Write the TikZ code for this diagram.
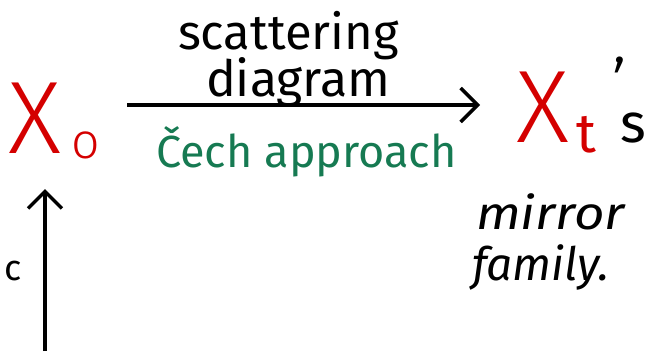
\documentclass[tikz,border=0pt]{standalone}
\usepackage{fontspec}
\setmainfont{Fira Sans}
\newfontfamily\thinfont{Fira Sans Light}
\usetikzlibrary{arrows.meta}
\definecolor{hred}{RGB}{212,0,0}
\definecolor{hgreen}{RGB}{22,122,82}
\tikzset{
  txt/.style={inner sep=0pt, outer sep=0pt, anchor=base west},
  conn/.style={line width=3.5pt, -{Straight Barb[length=17pt, width=34pt, line width=3.5pt]}},
}
\begin{document}
\begin{tikzpicture}[x=1pt,y=-1pt]
\useasboundingbox (0,0) rectangle (652,351);
% left object
\node[txt, text=hred] (X0) at (9,153) {\fontsize{103}{103}\selectfont\thinfont X};
\node[txt, text=hred] (X0sub) at (71,158) {\fontsize{50}{50}\selectfont\thinfont o};
% right object
\node[txt, text=hred] (Xt) at (516,142) {\fontsize{103}{103}\selectfont\thinfont X};
\node[txt, text=hred] (Xtsub) at (576,152) {\fontsize{55}{55}\selectfont t};
\node[txt] (apos) at (611,112) {\fontsize{75}{75}\selectfont\thinfont ’};
\node[txt] (s) at (620,142) {\fontsize{55}{55}\selectfont s};
% horizontal arrow
\coordinate (h1) at (127,105);
\coordinate (h2) at (480,105);
\draw[conn] (h1) -- (h2);
\node[txt] (lab1) at (178,49) {\fontsize{49}{49}\selectfont scattering};
\node[txt] (lab2) at (206,96) {\fontsize{50}{50}\selectfont diagram};
\node[txt, text=hgreen] (lab3) at (156,167) {\fontsize{45}{45}\selectfont Čech approach};
% mirror family
\node[txt] (mir) at (476,229) {\fontsize{46}{46}\selectfont\itshape\scalebox{1.15}[1]{mirror}};
\node[txt] (fam) at (472,280) {\fontsize{46}{46}\selectfont\itshape family.};
% vertical arrow
\coordinate (v1) at (45,351);
\coordinate (v2) at (45,189);
\draw[conn] (v1) -- (v2);
\node[txt] (c) at (5,280) {\fontsize{36}{36}\selectfont c};
\end{tikzpicture}
\end{document}
